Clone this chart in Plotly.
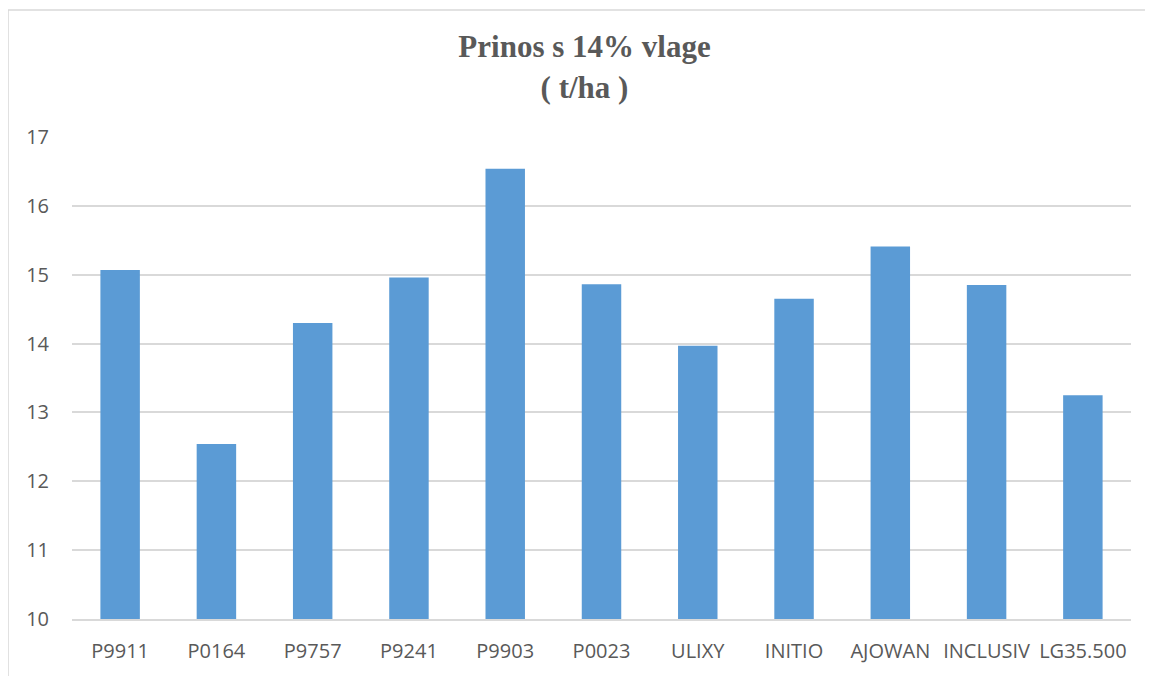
import plotly.graph_objects as go

# hybrids and yield at 14% moisture (t/ha)
hybrids = ['P9911', 'P0164', 'P9757', 'P9241', 'P9903', 'P0023',
           'ULIXY', 'INITIO', 'AJOWAN', 'INCLUSIV', 'LG35.500']
yields = [15.07, 12.54, 14.30, 14.96, 16.54, 14.86,
          13.97, 14.65, 15.41, 14.85, 13.25]

y_ticks = [10, 11, 12, 13, 14, 15, 16, 17]

fig = go.Figure()
fig.add_trace(go.Bar(x=hybrids, y=yields, marker_color='#5B9BD5',
                     marker_line_width=0))

fig.update_layout(
    width=1153, height=676,
    margin=dict(l=64, r=30, t=129, b=65),
    paper_bgcolor='white', plot_bgcolor='white',
    bargap=0.59,
    showlegend=False,
    title=dict(text='<b>Prinos s 14% vlage<br>( t/ha )</b>',
               x=0.5, xanchor='center', y=0.927, yanchor='top',
               font=dict(family='Liberation Serif', size=31, color='#595959')),
    font=dict(family='Open Sans', size=20, color='#595959'),
)
fig.update_yaxes(range=[10, 17], tickvals=y_ticks, showgrid=True,
                 gridcolor='#D9D9D9', gridwidth=1.5, zeroline=False,
                 showline=False, ticks='', ticklabelstandoff=22)
fig.update_xaxes(showline=True, linecolor='#D9D9D9', linewidth=1.5,
                 ticks='', ticklabelstandoff=13)

# outer chart border (only left and top edges visible, like the source)
fig.add_shape(type='rect', xref='paper', yref='paper',
              x0=-0.0604, x1=1.08, y0=-0.2, y1=1.2635,
              line=dict(color='#D9D9D9', width=1.5), layer='below')

fig.write_html('out.html')
